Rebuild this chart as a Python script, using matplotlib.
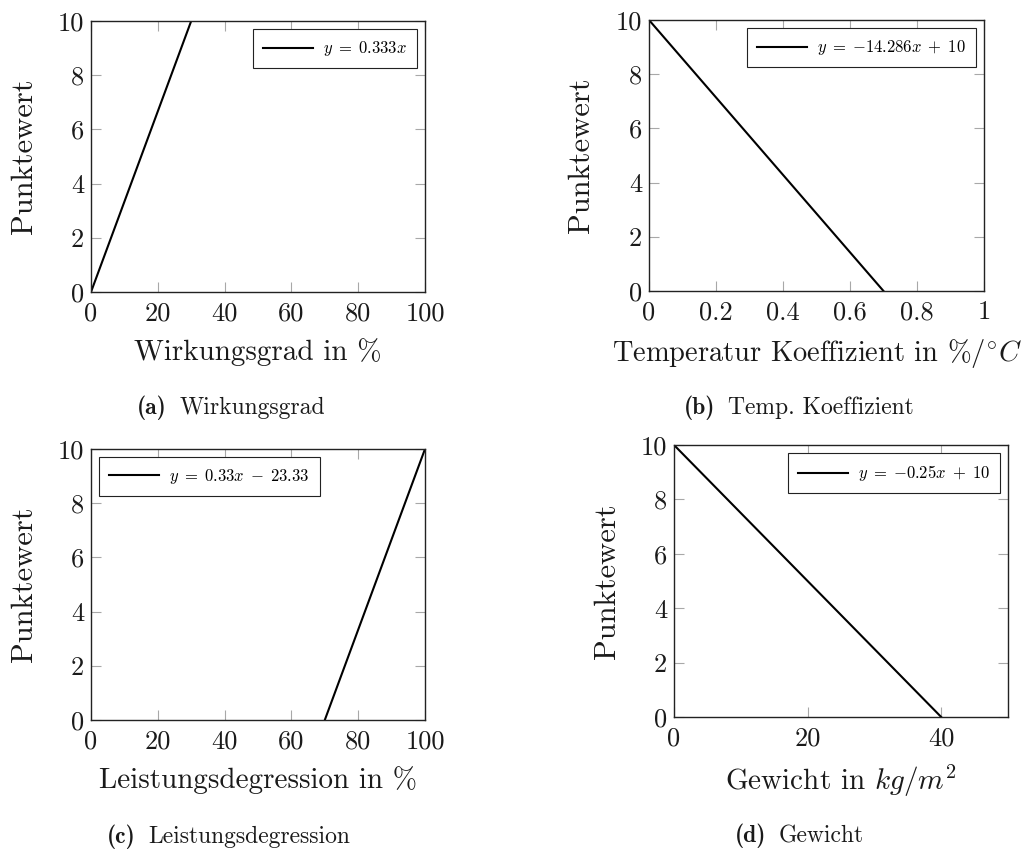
"""
Punktebewertung der PV-Modulkriterien.

Vier lineare Bewertungsfunktionen (Wirkungsgrad, Temperaturkoeffizient,
Leistungsdegression, Gewicht), die einen Kennwert auf 0-10 Punkte abbilden.
"""

import matplotlib.pyplot as plt
from matplotlib.ticker import FuncFormatter

plt.rcParams["font.family"] = "cmr10"
plt.rcParams["mathtext.fontset"] = "cm"

# Stuetzpunkte der Bewertungsgeraden
wirkungsgrad_x = [0, 30]
wirkungsgrad_y = [0, 10]

temp_koeff_x = [0, 0.7]
temp_koeff_y = [10, 0]

degression_x = [70, 100]
degression_y = [0, 10]

gewicht_x = [0, 40]
gewicht_y = [10, 0]

y_ticks = [0, 2, 4, 6, 8, 10]

panels = [
    {
        "x": wirkungsgrad_x, "y": wirkungsgrad_y,
        "label": r"$y\;=\;0.333x$", "legend_loc": "upper right",
        "xlim": (0, 100), "xticks": [0, 20, 40, 60, 80, 100],
        "xlabel": "Wirkungsgrad in %", "xlabel_size": 21,
        "tag": "(a)", "caption": "Wirkungsgrad",
        "rect": (91, 21, 334, 271), "caption_xy": (137, 408),
    },
    {
        "x": temp_koeff_x, "y": temp_koeff_y,
        "label": r"$y\;=\;{-14.286x}\;+\;10$", "legend_loc": "upper right",
        "xlim": (0, 1), "xticks": [0, 0.2, 0.4, 0.6, 0.8, 1],
        "xlabel": r"Temperatur Koeffizient in %/$^{\circ}C$", "xlabel_size": 20.5,
        "tag": "(b)", "caption": "Temp. Koeffizient",
        "rect": (649, 20, 335, 271), "caption_xy": (684, 408),
    },
    {
        "x": degression_x, "y": degression_y,
        "label": r"$y\;=\;0.33x\;-\;23.33$", "legend_loc": "upper left",
        "xlim": (0, 100), "xticks": [0, 20, 40, 60, 80, 100],
        "xlabel": "Leistungsdegression in %", "xlabel_size": 21,
        "tag": "(c)", "caption": "Leistungsdegression",
        "rect": (91, 449, 334, 271), "caption_xy": (107, 837),
    },
    {
        "x": gewicht_x, "y": gewicht_y,
        "label": r"$y\;=\;{-0.25x}\;+\;10$", "legend_loc": "upper right",
        "xlim": (0, 50), "xticks": [0, 20, 40],
        "xlabel": r"Gewicht in $kg/m^2$", "xlabel_size": 21,
        "tag": "(d)", "caption": "Gewicht",
        "rect": (674, 445, 334, 272), "caption_xy": (735, 836),
    },
]

W, H = 1024, 850
fig = plt.figure(figsize=(W / 100, H / 100), dpi=100)
tick_fmt = FuncFormatter(lambda v, _: f"{v:g}")

for p in panels:
    left, top, width, height = p["rect"]
    ax = fig.add_axes([left / W, (H - top - height) / H, width / W, height / H])
    ax.plot(p["x"], p["y"], color="black", lw=1.5, label=p["label"])

    ax.set_xlim(*p["xlim"])
    ax.set_ylim(0, 10)
    ax.set_xticks(p["xticks"])
    ax.set_yticks(y_ticks)
    ax.xaxis.set_major_formatter(tick_fmt)
    ax.yaxis.set_major_formatter(tick_fmt)
    ax.tick_params(direction="in", length=7, width=0.8, color="#a8a8a8",
                   labelsize=19, labelcolor="#1a1a1a", pad=5,
                   top=True, right=True)
    ax.tick_params(axis="x", pad=7)
    for spine in ax.spines.values():
        spine.set_color("#222222")
        spine.set_linewidth(1.0)

    ax.set_xlabel(p["xlabel"], fontsize=p["xlabel_size"], color="#1a1a1a")
    ax.set_ylabel("Punktewert", fontsize=22, color="#1a1a1a")
    ax.xaxis.set_label_coords(0.5, -0.17)
    ax.yaxis.set_label_coords(-0.16, 0.5)

    leg = ax.legend(loc=p["legend_loc"], fontsize=12, fancybox=False,
                    framealpha=1, edgecolor="#222222", handlelength=3.0,
                    handletextpad=0.6, borderpad=0.6, borderaxespad=0.5)
    leg.get_frame().set_linewidth(0.8)

    # Unterschrift: fettes Kennzeichen, dahinter der Titel
    cx, cy = p["caption_xy"]
    tag = fig.text(cx / W, 1 - cy / H, p["tag"], fontsize=17,
                   family="cmb10", color="#1a1a1a", ha="left", va="center")
    ax.annotate(p["caption"], xy=(1, 0.5), xycoords=tag, xytext=(9, 0),
                textcoords="offset points", fontsize=17, color="#1a1a1a",
                ha="left", va="center", annotation_clip=False)

fig.savefig("out.png", dpi=100)
